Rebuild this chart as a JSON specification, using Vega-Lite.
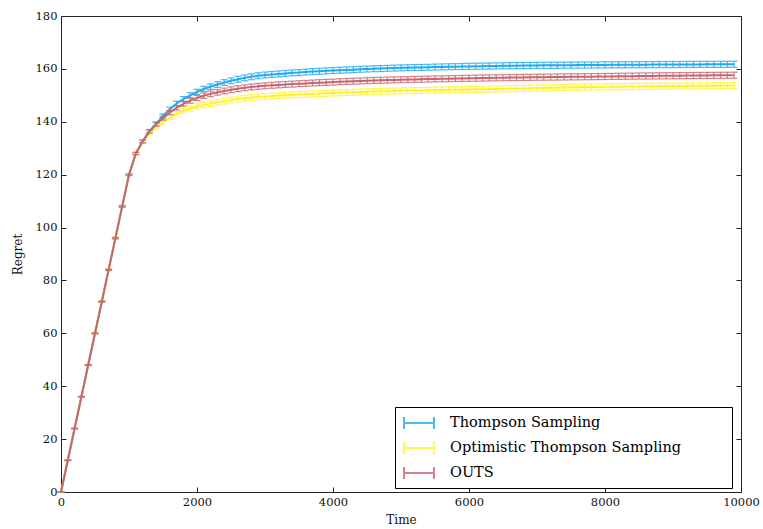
{
"$schema": "https://vega.github.io/schema/vega-lite/v6.json",
"width": 680, "height": 476,
"autosize": {"type": "none"},
"padding": {"left": 61, "top": 16, "right": 22, "bottom": 37},
"background": "white",
"datasets": {
"ts": [
{"t":0,"r":0,"e":0},{"t":100,"r":12,"e":0.1},{"t":200,"r":24,"e":0.12},{"t":300,"r":36,"e":0.14},{"t":400,"r":48,"e":0.16},{"t":500,"r":60,"e":0.18},{"t":600,"r":72,"e":0.2},{"t":700,"r":84,"e":0.22},{"t":800,"r":96,"e":0.25},{"t":900,"r":108,"e":0.28},{"t":1000,"r":120,"e":0.32},
{"t":1100,"r":128,"e":0.4},{"t":1200,"r":132.6,"e":0.5},{"t":1300,"r":136.5,"e":0.58},{"t":1400,"r":139.3,"e":0.66},{"t":1500,"r":142.2,"e":0.74},{"t":1600,"r":144.7,"e":0.8},{"t":1700,"r":146.9,"e":0.86},{"t":1800,"r":148.6,"e":0.92},{"t":1900,"r":150.0,"e":0.97},{"t":2000,"r":151.3,"e":1.0},
{"t":2100,"r":152.4,"e":1.03},{"t":2200,"r":153.3,"e":1.05},{"t":2300,"r":154.1,"e":1.07},{"t":2400,"r":154.85,"e":1.08},{"t":2500,"r":155.5,"e":1.09},{"t":2600,"r":156.1,"e":1.1},{"t":2700,"r":156.6,"e":1.1},{"t":2800,"r":157.0,"e":1.1},{"t":2900,"r":157.4,"e":1.1},{"t":3000,"r":157.7,"e":1.1},
{"t":3100,"r":157.9,"e":1.12},{"t":3200,"r":158.1,"e":1.12},{"t":3300,"r":158.3,"e":1.12},{"t":3400,"r":158.5,"e":1.12},{"t":3500,"r":158.6,"e":1.12},{"t":3600,"r":158.8,"e":1.12},{"t":3700,"r":159.0,"e":1.12},{"t":3800,"r":159.1,"e":1.12},{"t":3900,"r":159.25,"e":1.12},{"t":4000,"r":159.4,"e":1.12},
{"t":4100,"r":159.5,"e":1.12},{"t":4200,"r":159.6,"e":1.12},{"t":4300,"r":159.7,"e":1.12},{"t":4400,"r":159.85,"e":1.12},{"t":4500,"r":159.95,"e":1.12},{"t":4600,"r":160.05,"e":1.12},{"t":4700,"r":160.1,"e":1.12},{"t":4800,"r":160.2,"e":1.12},{"t":4900,"r":160.3,"e":1.12},{"t":5000,"r":160.4,"e":1.12},
{"t":5100,"r":160.45,"e":1.12},{"t":5200,"r":160.5,"e":1.12},{"t":5300,"r":160.55,"e":1.12},{"t":5400,"r":160.6,"e":1.12},{"t":5500,"r":160.7,"e":1.12},{"t":5600,"r":160.75,"e":1.12},{"t":5700,"r":160.8,"e":1.12},{"t":5800,"r":160.85,"e":1.12},{"t":5900,"r":160.9,"e":1.12},{"t":6000,"r":160.95,"e":1.15},
{"t":6100,"r":161.0,"e":1.15},{"t":6200,"r":161.04,"e":1.15},{"t":6300,"r":161.08,"e":1.15},{"t":6400,"r":161.12,"e":1.15},{"t":6500,"r":161.16,"e":1.15},{"t":6600,"r":161.2,"e":1.15},{"t":6700,"r":161.23,"e":1.15},{"t":6800,"r":161.26,"e":1.15},{"t":6900,"r":161.28,"e":1.15},{"t":7000,"r":161.31,"e":1.15},
{"t":7100,"r":161.33,"e":1.15},{"t":7200,"r":161.36,"e":1.15},{"t":7300,"r":161.38,"e":1.15},{"t":7400,"r":161.4,"e":1.15},{"t":7500,"r":161.42,"e":1.15},{"t":7600,"r":161.44,"e":1.15},{"t":7700,"r":161.46,"e":1.15},{"t":7800,"r":161.48,"e":1.15},{"t":7900,"r":161.5,"e":1.15},{"t":8000,"r":161.51,"e":1.15},
{"t":8100,"r":161.53,"e":1.15},{"t":8200,"r":161.55,"e":1.15},{"t":8300,"r":161.56,"e":1.15},{"t":8400,"r":161.58,"e":1.15},{"t":8500,"r":161.59,"e":1.15},{"t":8600,"r":161.6,"e":1.15},{"t":8700,"r":161.62,"e":1.15},{"t":8800,"r":161.63,"e":1.15},{"t":8900,"r":161.64,"e":1.15},{"t":9000,"r":161.66,"e":1.15},
{"t":9100,"r":161.67,"e":1.15},{"t":9200,"r":161.68,"e":1.15},{"t":9300,"r":161.69,"e":1.15},{"t":9400,"r":161.7,"e":1.15},{"t":9500,"r":161.71,"e":1.15},{"t":9600,"r":161.72,"e":1.15},{"t":9700,"r":161.73,"e":1.15},{"t":9800,"r":161.74,"e":1.15},{"t":9900,"r":161.75,"e":1.15}
],
"ots": [
{"t":0,"r":0,"e":0},{"t":100,"r":12,"e":0.1},{"t":200,"r":24,"e":0.12},{"t":300,"r":36,"e":0.14},{"t":400,"r":48,"e":0.16},{"t":500,"r":60,"e":0.18},{"t":600,"r":72,"e":0.2},{"t":700,"r":84,"e":0.22},{"t":800,"r":96,"e":0.25},{"t":900,"r":108,"e":0.28},{"t":1000,"r":120,"e":0.32},
{"t":1100,"r":128,"e":0.4},{"t":1200,"r":132.4,"e":0.5},{"t":1300,"r":135.5,"e":0.58},{"t":1400,"r":137.9,"e":0.66},{"t":1500,"r":139.9,"e":0.74},{"t":1600,"r":141.6,"e":0.8},{"t":1700,"r":143.0,"e":0.86},{"t":1800,"r":144.1,"e":0.92},{"t":1900,"r":145.0,"e":0.97},{"t":2000,"r":145.75,"e":1.0},
{"t":2100,"r":146.35,"e":1.03},{"t":2200,"r":146.85,"e":1.05},{"t":2300,"r":147.35,"e":1.07},{"t":2400,"r":147.8,"e":1.08},{"t":2500,"r":148.2,"e":1.09},{"t":2600,"r":148.6,"e":1.1},{"t":2700,"r":148.9,"e":1.1},{"t":2800,"r":149.15,"e":1.1},{"t":2900,"r":149.4,"e":1.1},{"t":3000,"r":149.6,"e":1.1},
{"t":3100,"r":149.75,"e":1.12},{"t":3200,"r":149.9,"e":1.12},{"t":3300,"r":150.0,"e":1.12},{"t":3400,"r":150.15,"e":1.12},{"t":3500,"r":150.3,"e":1.12},{"t":3600,"r":150.4,"e":1.12},{"t":3700,"r":150.5,"e":1.12},{"t":3800,"r":150.65,"e":1.12},{"t":3900,"r":150.75,"e":1.12},{"t":4000,"r":150.85,"e":1.12},
{"t":4100,"r":150.95,"e":1.12},{"t":4200,"r":151.05,"e":1.12},{"t":4300,"r":151.15,"e":1.12},{"t":4400,"r":151.25,"e":1.12},{"t":4500,"r":151.35,"e":1.12},{"t":4600,"r":151.44,"e":1.12},{"t":4700,"r":151.5,"e":1.12},{"t":4800,"r":151.57,"e":1.12},{"t":4900,"r":151.63,"e":1.12},{"t":5000,"r":151.7,"e":1.12},
{"t":5100,"r":151.75,"e":1.12},{"t":5200,"r":151.8,"e":1.12},{"t":5300,"r":151.87,"e":1.12},{"t":5400,"r":151.92,"e":1.12},{"t":5500,"r":151.98,"e":1.12},{"t":5600,"r":152.03,"e":1.12},{"t":5700,"r":152.08,"e":1.12},{"t":5800,"r":152.13,"e":1.12},{"t":5900,"r":152.18,"e":1.12},{"t":6000,"r":152.23,"e":1.15},
{"t":6100,"r":152.28,"e":1.15},{"t":6200,"r":152.32,"e":1.15},{"t":6300,"r":152.37,"e":1.15},{"t":6400,"r":152.41,"e":1.15},{"t":6500,"r":152.46,"e":1.15},{"t":6600,"r":152.5,"e":1.15},{"t":6700,"r":152.57,"e":1.15},{"t":6800,"r":152.63,"e":1.15},{"t":6900,"r":152.69,"e":1.15},{"t":7000,"r":152.75,"e":1.15},
{"t":7100,"r":152.81,"e":1.15},{"t":7200,"r":152.86,"e":1.15},{"t":7300,"r":152.91,"e":1.15},{"t":7400,"r":152.97,"e":1.15},{"t":7500,"r":153.01,"e":1.15},{"t":7600,"r":153.06,"e":1.15},{"t":7700,"r":153.11,"e":1.15},{"t":7800,"r":153.15,"e":1.15},{"t":7900,"r":153.19,"e":1.15},{"t":8000,"r":153.23,"e":1.15},
{"t":8100,"r":153.26,"e":1.15},{"t":8200,"r":153.29,"e":1.15},{"t":8300,"r":153.32,"e":1.15},{"t":8400,"r":153.35,"e":1.15},{"t":8500,"r":153.38,"e":1.15},{"t":8600,"r":153.41,"e":1.15},{"t":8700,"r":153.44,"e":1.15},{"t":8800,"r":153.46,"e":1.15},{"t":8900,"r":153.49,"e":1.15},{"t":9000,"r":153.51,"e":1.15},
{"t":9100,"r":153.54,"e":1.15},{"t":9200,"r":153.56,"e":1.15},{"t":9300,"r":153.58,"e":1.15},{"t":9400,"r":153.6,"e":1.15},{"t":9500,"r":153.62,"e":1.15},{"t":9600,"r":153.64,"e":1.15},{"t":9700,"r":153.66,"e":1.15},{"t":9800,"r":153.68,"e":1.15},{"t":9900,"r":153.7,"e":1.15}
],
"outs": [
{"t":0,"r":0,"e":0},{"t":100,"r":12,"e":0.1},{"t":200,"r":24,"e":0.12},{"t":300,"r":36,"e":0.14},{"t":400,"r":48,"e":0.16},{"t":500,"r":60,"e":0.18},{"t":600,"r":72,"e":0.2},{"t":700,"r":84,"e":0.22},{"t":800,"r":96,"e":0.25},{"t":900,"r":108,"e":0.28},{"t":1000,"r":120,"e":0.32},
{"t":1100,"r":128,"e":0.4},{"t":1200,"r":132.5,"e":0.5},{"t":1300,"r":136.3,"e":0.58},{"t":1400,"r":139.0,"e":0.66},{"t":1500,"r":141.4,"e":0.74},{"t":1600,"r":143.5,"e":0.8},{"t":1700,"r":145.3,"e":0.86},{"t":1800,"r":146.8,"e":0.92},{"t":1900,"r":148.0,"e":0.97},{"t":2000,"r":149.0,"e":1.0},
{"t":2100,"r":149.85,"e":1.03},{"t":2200,"r":150.55,"e":1.05},{"t":2300,"r":151.15,"e":1.07},{"t":2400,"r":151.65,"e":1.08},{"t":2500,"r":152.1,"e":1.09},{"t":2600,"r":152.5,"e":1.1},{"t":2700,"r":152.85,"e":1.1},{"t":2800,"r":153.15,"e":1.1},{"t":2900,"r":153.4,"e":1.1},{"t":3000,"r":153.6,"e":1.1},
{"t":3100,"r":153.8,"e":1.12},{"t":3200,"r":153.95,"e":1.12},{"t":3300,"r":154.1,"e":1.12},{"t":3400,"r":154.25,"e":1.12},{"t":3500,"r":154.4,"e":1.12},{"t":3600,"r":154.5,"e":1.12},{"t":3700,"r":154.65,"e":1.12},{"t":3800,"r":154.8,"e":1.12},{"t":3900,"r":154.9,"e":1.12},{"t":4000,"r":155.0,"e":1.12},
{"t":4100,"r":155.15,"e":1.12},{"t":4200,"r":155.25,"e":1.12},{"t":4300,"r":155.35,"e":1.12},{"t":4400,"r":155.45,"e":1.12},{"t":4500,"r":155.55,"e":1.12},{"t":4600,"r":155.64,"e":1.12},{"t":4700,"r":155.71,"e":1.12},{"t":4800,"r":155.78,"e":1.12},{"t":4900,"r":155.84,"e":1.12},{"t":5000,"r":155.9,"e":1.12},
{"t":5100,"r":155.97,"e":1.12},{"t":5200,"r":156.03,"e":1.12},{"t":5300,"r":156.08,"e":1.12},{"t":5400,"r":156.14,"e":1.12},{"t":5500,"r":156.2,"e":1.12},{"t":5600,"r":156.25,"e":1.12},{"t":5700,"r":156.3,"e":1.12},{"t":5800,"r":156.35,"e":1.12},{"t":5900,"r":156.4,"e":1.12},{"t":6000,"r":156.45,"e":1.15},
{"t":6100,"r":156.49,"e":1.15},{"t":6200,"r":156.54,"e":1.15},{"t":6300,"r":156.58,"e":1.15},{"t":6400,"r":156.62,"e":1.15},{"t":6500,"r":156.66,"e":1.15},{"t":6600,"r":156.7,"e":1.15},{"t":6700,"r":156.74,"e":1.15},{"t":6800,"r":156.77,"e":1.15},{"t":6900,"r":156.8,"e":1.15},{"t":7000,"r":156.84,"e":1.15},
{"t":7100,"r":156.87,"e":1.15},{"t":7200,"r":156.9,"e":1.15},{"t":7300,"r":156.93,"e":1.15},{"t":7400,"r":156.96,"e":1.15},{"t":7500,"r":156.99,"e":1.15},{"t":7600,"r":157.01,"e":1.15},{"t":7700,"r":157.04,"e":1.15},{"t":7800,"r":157.07,"e":1.15},{"t":7900,"r":157.09,"e":1.15},{"t":8000,"r":157.13,"e":1.15},
{"t":8100,"r":157.16,"e":1.15},{"t":8200,"r":157.2,"e":1.15},{"t":8300,"r":157.23,"e":1.15},{"t":8400,"r":157.26,"e":1.15},{"t":8500,"r":157.29,"e":1.15},{"t":8600,"r":157.32,"e":1.15},{"t":8700,"r":157.35,"e":1.15},{"t":8800,"r":157.37,"e":1.15},{"t":8900,"r":157.4,"e":1.15},{"t":9000,"r":157.42,"e":1.15},
{"t":9100,"r":157.44,"e":1.15},{"t":9200,"r":157.47,"e":1.15},{"t":9300,"r":157.49,"e":1.15},{"t":9400,"r":157.51,"e":1.15},{"t":9500,"r":157.53,"e":1.15},{"t":9600,"r":157.55,"e":1.15},{"t":9700,"r":157.57,"e":1.15},{"t":9800,"r":157.58,"e":1.15},{"t":9900,"r":157.6,"e":1.15}
]
},
"layer": [
{"data": {"name": "ts"},
 "mark": {"type": "errorbar", "ticks": {"size": 7}, "thickness": 1.2, "opacity": 0.8},
 "encoding": {
  "x": {"field": "t", "type": "quantitative", "scale": {"domain": [0, 10000], "nice": false, "zero": false},
        "axis": {"orient": "top", "labels": false, "title": null, "values": [0,2000,4000,6000,8000,10000]}},
  "y": {"field": "r", "type": "quantitative", "scale": {"domain": [0, 180], "nice": false},
        "axis": {"orient": "right", "labels": false, "title": null, "values": [0,20,40,60,80,100,120,140,160,180]}},
  "yError": {"field": "e"},
  "color": {"datum": "Thompson Sampling", "type": "nominal",
            "scale": {"domain": ["Thompson Sampling", "Optimistic Thompson Sampling", "OUTS"], "range": ["#1fa9f0", "#fff32e", "#c8646e"]},
            "legend": {"title": "\u00a0", "titleOrient": "right", "titlePadding": 46, "titleFontSize": 14}}
 }},
{"data": {"name": "ts"},
 "mark": {"type": "line", "strokeWidth": 2},
 "encoding": {
  "x": {"field": "t", "type": "quantitative", "axis": {"orient": "bottom", "title": "Time", "format": "d", "values": [0,2000,4000,6000,8000,10000], "labelFlush": false}},
  "y": {"field": "r", "type": "quantitative", "axis": {"orient": "left", "title": "Regret", "values": [0,20,40,60,80,100,120,140,160,180]}},
  "color": {"datum": "Thompson Sampling", "type": "nominal"}
 }},
{"data": {"name": "ots"},
 "mark": {"type": "errorbar", "ticks": {"size": 7}, "thickness": 1.2, "opacity": 0.8},
 "encoding": {
  "x": {"field": "t", "type": "quantitative", "axis": null},
  "y": {"field": "r", "type": "quantitative", "axis": null},
  "yError": {"field": "e"},
  "color": {"datum": "Optimistic Thompson Sampling", "type": "nominal"}
 }},
{"data": {"name": "ots"},
 "mark": {"type": "line", "strokeWidth": 2},
 "encoding": {
  "x": {"field": "t", "type": "quantitative", "axis": null},
  "y": {"field": "r", "type": "quantitative", "axis": null},
  "color": {"datum": "Optimistic Thompson Sampling", "type": "nominal"}
 }},
{"data": {"name": "outs"},
 "mark": {"type": "errorbar", "ticks": {"size": 7}, "thickness": 1.2, "opacity": 0.8},
 "encoding": {
  "x": {"field": "t", "type": "quantitative", "axis": null},
  "y": {"field": "r", "type": "quantitative", "axis": null},
  "yError": {"field": "e"},
  "color": {"datum": "OUTS", "type": "nominal"}
 }},
{"data": {"name": "outs"},
 "mark": {"type": "line", "strokeWidth": 2},
 "encoding": {
  "x": {"field": "t", "type": "quantitative", "axis": null},
  "y": {"field": "r", "type": "quantitative", "axis": null},
  "color": {"datum": "OUTS", "type": "nominal"}
 }}
],
"resolve": {"axis": {"x": "independent", "y": "independent"}},
"config": {
 "font": "DejaVu Serif",
 "view": {"stroke": "#222", "strokeWidth": 1},
 "axis": {"grid": false, "domain": false, "tickSize": -5, "tickColor": "#222", "tickWidth": 1,
          "labelFont": "DejaVu Serif", "labelFontSize": 11.5, "labelColor": "#111", "labelPadding": 9,
          "labelOverlap": false, "labelBound": false,
          "titleFont": "DejaVu Serif", "titleFontSize": 12, "titleFontWeight": "normal", "titleColor": "#111"},
 "axisX": {"labelFlush": false, "titlePadding": 7},
 "axisY": {"titlePadding": 11},
 "legend": {"orient": "none", "legendX": 334, "legendY": 391, "strokeColor": "#000", "fillColor": "#fff",
            "padding": 5, "symbolType": "M-1.5,-0.6V0.6M1.5,-0.6V0.6M-1.5,0H1.5", "symbolSize": 400,
            "symbolStrokeWidth": 2, "symbolFillColor": "transparent", "symbolOffset": 8,
            "labelFont": "DejaVu Serif", "labelFontSize": 14.5, "labelColor": "#000", "rowPadding": 4, "labelOffset": 20,
            "labelLimit": 500}
}
}
